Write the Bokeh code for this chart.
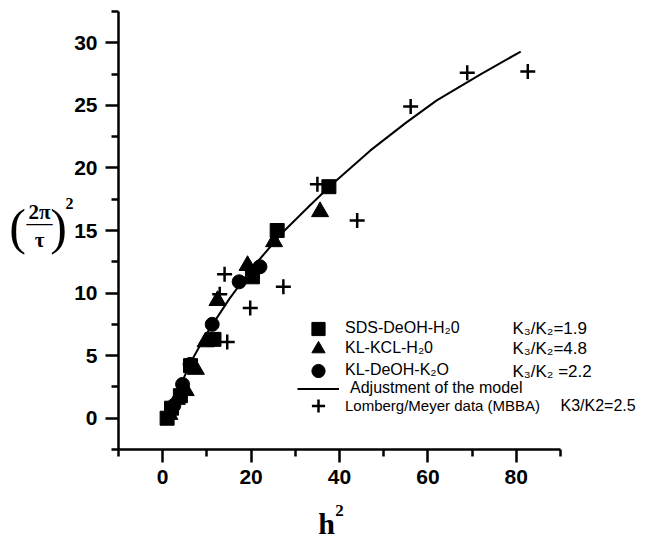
from bokeh.plotting import figure
from bokeh.models import FixedTicker, Legend, LegendItem, Label, Range1d
from bokeh.embed import file_html
from bokeh.resources import INLINE

# ---------------- data ----------------
sds_x = [1.0, 2.0, 4.0, 6.3, 11.6, 20.3, 25.9, 37.6]
sds_y = [0.0, 0.8, 1.8, 4.2, 6.3, 11.3, 15.0, 18.5]

kcl_x = [1.5, 3.2, 5.2, 7.5, 9.7, 12.4, 19.2, 25.2, 35.6]
kcl_y = [0.3, 1.5, 2.2, 3.9, 6.1, 9.4, 12.2, 14.1, 16.5]

deoh_x = [2.5, 4.5, 6.2, 11.2, 17.3, 22.0]
deoh_y = [1.0, 2.7, 4.3, 7.5, 10.9, 12.1]

lm_x = [14.6, 12.9, 14.0, 19.8, 27.3, 35.0, 44.0, 56.1, 68.9, 82.6]
lm_y = [6.1, 9.9, 11.5, 8.8, 10.5, 18.7, 15.8, 24.9, 27.6, 27.7]

model_x = [1.2, 3, 5, 7, 10, 15, 20, 27, 33, 38, 47, 55, 62, 72, 81]
model_y = [0.0, 1.6, 3.4, 4.9, 6.8, 9.5, 11.9, 14.8, 16.9, 18.6, 21.4, 23.6, 25.4, 27.5, 29.3]

x_bounds = (-10, 90)
y_bounds = (-2.5, 32.5)
x_major = [0, 20, 40, 60, 80]
x_minor = [-10, 10, 30, 50, 70, 90]
y_major = [0, 5, 10, 15, 20, 25, 30]
y_minor = [-2.5, 2.5, 7.5, 12.5, 17.5, 22.5, 27.5, 32.5]

legend_names = ["SDS-DeOH-H\u20820", "KL-KCL-H\u20820", "KL-DeOH-K\u2082O",
                "Adjustment of the model", "Lomberg/Meyer data (MBBA)"]
ratio_texts = ["K\u2083/K\u2082=1.9", "K\u2083/K\u2082=4.8", "K\u2083/K\u2082 =2.2", "K3/K2=2.5"]

# ---------------- layout ----------------
W, H = 654, 541
AX_L, AX_R = 118, 560     # pixel extent of the x axis
AX_T, AX_B = 11, 449      # pixel extent of the y axis
FONT = "Liberation Sans"
SERIF = "Liberation Serif"

# the frame covers the whole canvas; the axes sit at fixed locations inside it
kx = (AX_R - AX_L) / (x_bounds[1] - x_bounds[0])
ky = (AX_B - AX_T) / (y_bounds[1] - y_bounds[0])
x_range = Range1d(x_bounds[0] - AX_L / kx, x_bounds[1] + (W - AX_R) / kx)
y_range = Range1d(y_bounds[0] - (H - AX_B) / ky, y_bounds[1] + AX_T / ky)

p = figure(width=W, height=H, output_backend="svg", toolbar_location=None,
           x_range=x_range, y_range=y_range,
           min_border_left=0, min_border_top=0, min_border_right=0, min_border_bottom=0)
p.outline_line_color = None
p.grid.visible = False
p.background_fill_color = "white"
p.border_fill_color = "white"

p.xaxis.fixed_location = y_bounds[0]
p.yaxis.fixed_location = x_bounds[0]
p.xaxis.bounds = x_bounds
p.yaxis.bounds = y_bounds

for ax, maj, mnr in ((p.xaxis[0], x_major, x_minor), (p.yaxis[0], y_major, y_minor)):
    ax.ticker = FixedTicker(ticks=maj, minor_ticks=mnr)
    ax.axis_line_width = 2.5
    ax.axis_line_color = "black"
    ax.major_tick_line_width = 2.5
    ax.minor_tick_line_width = 2.5
    ax.major_tick_line_color = "black"
    ax.minor_tick_line_color = "black"
    ax.major_tick_in = 0
    ax.minor_tick_in = 0
    ax.major_tick_out = 13
    ax.minor_tick_out = 7
    ax.major_label_text_font = FONT
    ax.major_label_text_font_size = "21px"
    ax.major_label_text_font_style = "bold"
    ax.major_label_text_color = "black"
p.xaxis.major_label_standoff = 7
p.yaxis.major_label_standoff = 8

r_model = p.line(model_x, model_y, line_color="black", line_width=2)
r_sds = p.scatter(sds_x, sds_y, marker="square", size=14, color="black")
r_kcl = p.scatter(kcl_x, kcl_y, marker="triangle", size=17, color="black")
r_deoh = p.scatter(deoh_x, deoh_y, marker="circle", size=14, color="black")
r_lm = p.scatter(lm_x, lm_y, marker="cross", size=15, line_color="black", line_width=2.5)

def sy(Y):
    # page y (from top) -> screen y (from bottom of the frame = canvas)
    return H - Y

rows = [(r_sds, 328, 6, 16), (r_kcl, 348, 6, 16), (r_deoh, 370, 6, 16),
        (r_model, 388, 11, 16), (r_lm, 405, 6, 15)]
for (rend, yc, stand, fs), name in zip(rows, legend_names):
    leg = Legend(items=[LegendItem(label=name, renderers=[rend])],
                 location=(297, sy(yc + 16.5)),
                 glyph_width=42, glyph_height=33, label_height=33, label_standoff=stand,
                 padding=0, margin=0, spacing=0,
                 border_line_color=None, background_fill_alpha=0,
                 label_text_font=FONT, label_text_font_size=f"{fs}px",
                 label_text_color="black")
    p.add_layout(leg)

for txt, X, Y, fs in zip(ratio_texts, [512, 512, 512, 560], [328, 348, 371, 405],
                         [17, 17, 17, 16]):
    p.add_layout(Label(x=X, y=sy(Y), x_units="screen", y_units="screen", text=txt,
                       text_font=FONT, text_font_size=f"{fs}px", text_color="black",
                       text_align="left", text_baseline="middle"))

# y axis label: (2pi / tau)^2
ylab = [("(", 17, 226, 50, "normal"), ("2\u03c0", 39, 211, 21, "bold"),
        ("\u2014", 39, 222, 26, "normal"), ("\u03c4", 39, 239, 21, "bold"),
        (")", 58, 226, 50, "normal"), ("2", 69, 203, 16, "bold")]
for txt, X, Y, fs, fw in ylab:
    p.add_layout(Label(x=X, y=sy(Y), x_units="screen", y_units="screen", text=txt,
                       text_font=SERIF, text_font_size=f"{fs}px", text_font_style=fw,
                       text_color="black", text_align="center", text_baseline="middle"))

# x axis label: h^2
p.add_layout(Label(x=326, y=sy(523), x_units="screen", y_units="screen", text="h",
                   text_font=SERIF, text_font_size="30px", text_font_style="bold",
                   text_color="black", text_align="center", text_baseline="middle"))
p.add_layout(Label(x=339, y=sy(510), x_units="screen", y_units="screen", text="2",
                   text_font=SERIF, text_font_size="17px", text_font_style="bold",
                   text_color="black", text_align="center", text_baseline="middle"))

open("out.html", "w").write(file_html(p, INLINE))
